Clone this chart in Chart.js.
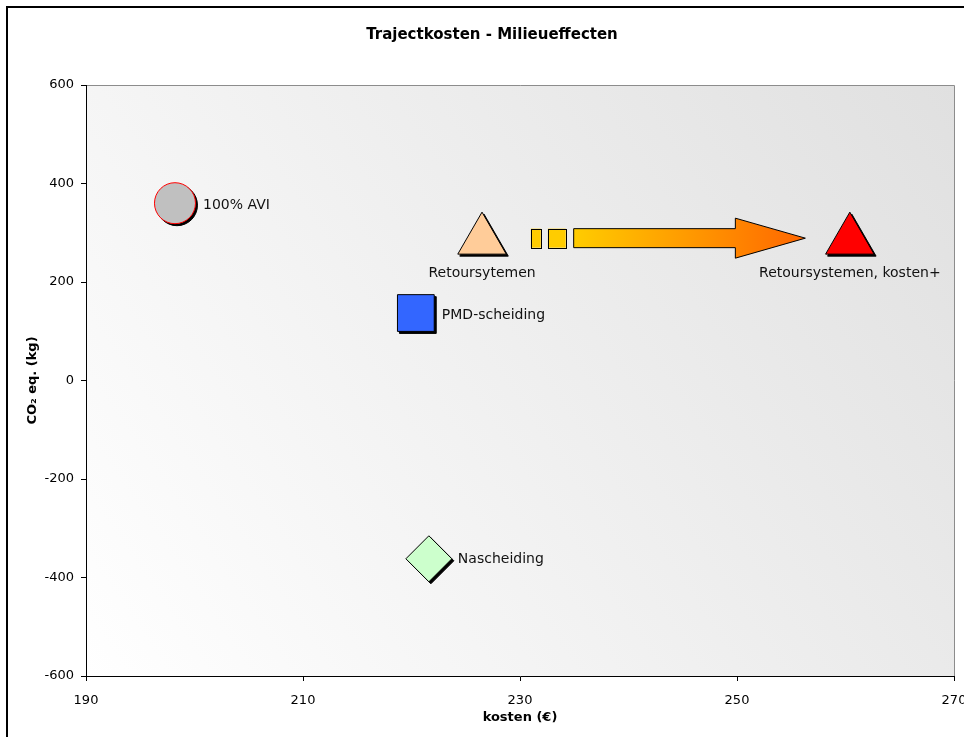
<!DOCTYPE html>
<html>
<head>
<meta charset="utf-8">
<script src="https://cdn.jsdelivr.net/npm/chart.js@4/dist/chart.umd.min.js"></script>
<style>
  html, body { margin: 0; padding: 0; background: #fff; overflow: hidden; }
  #box { width: 964px; height: 737px; overflow: hidden; }
</style>
</head>
<body>
<div id="box"><canvas id="chart" width="983" height="737"></canvas></div>
<script>
// ── data ─────────────────────────────────────
const labels = ['100% AVI', 'Retoursytemen', 'PMD-scheiding', 'Nascheiding', 'Retoursystemen, kosten+'];
const kosten = [198.2, 226.5, 220.4, 221.6, 260.4];
const co2 = [360, 285, 137, -362, 285];
const xTicks = [190, 210, 230, 250, 270];
const yTicks = [-600, -400, -200, 0, 200, 400, 600];
// arrow from "Retoursytemen" towards "kosten+"
const arrowKosten = [231, 256.3];
const arrowCo2 = 289;

// marker looks, same order as labels
const markers = [
  { style: 'circle',   r: 20.5, bg: '#c0c0c0', border: '#ff0000' },
  { style: 'triangle', r: 28,   bg: '#ffcc99', border: '#000' },
  { style: 'rect',     r: 26,   bg: '#3366ff', border: '#000' },
  { style: 'rectRot',  r: 23,   bg: '#ccffcc', border: '#000' },
  { style: 'triangle', r: 28,   bg: '#ff0000', border: '#000' },
];
// label placement relative to marker centre
const labelPos = [
  { dx: 28, dy: 2,  align: 'left' },
  { dx: 0,  dy: 33, align: 'center' },
  { dx: 26, dy: 2,  align: 'left' },
  { dx: 29, dy: 1,  align: 'left' },
  { dx: 0,  dy: 33, align: 'center' },
];

const FONT = "'DejaVu Sans', Verdana, sans-serif";

const backdrop = {
  id: 'backdrop',
  beforeDraw(chart) {
    const { ctx, chartArea: a } = chart;
    ctx.save();
    ctx.fillStyle = '#fff';
    ctx.fillRect(0, 0, chart.width, chart.height);
    // outer frame
    ctx.fillStyle = '#000';
    ctx.fillRect(6, 6, chart.width - 6, 2);
    ctx.fillRect(6, 6, 2, chart.height - 6);
    // plot area gradient
    const g = ctx.createLinearGradient(a.left, a.bottom, a.right, a.top);
    g.addColorStop(0, '#ffffff');
    g.addColorStop(1, '#e0e0e0');
    ctx.fillStyle = g;
    ctx.fillRect(a.left, a.top, a.right - a.left, a.bottom - a.top);
    ctx.strokeStyle = '#8c8c8c';
    ctx.lineWidth = 1;
    ctx.beginPath();
    ctx.moveTo(a.left, a.top + 0.5);
    ctx.lineTo(a.right + 0.5, a.top + 0.5);
    ctx.lineTo(a.right + 0.5, a.bottom);
    ctx.stroke();
    // title
    ctx.fillStyle = '#000';
    ctx.font = 'bold 15px ' + FONT;
    ctx.textAlign = 'center';
    ctx.textBaseline = 'middle';
    ctx.fillText('Trajectkosten - Milieueffecten', 492, 35);
    ctx.restore();
  }
};

const shadows = {
  id: 'shadows',
  beforeDatasetDraw(chart, args) {
    const ctx = chart.ctx;
    args.meta.data.forEach(pt => {
      const o = pt.options;
      ctx.save();
      ctx.fillStyle = '#000';
      ctx.strokeStyle = '#000';
      ctx.lineWidth = o.borderWidth;
      Chart.helpers.drawPoint(ctx, { pointStyle: o.pointStyle, radius: o.radius, rotation: 0, borderWidth: o.borderWidth }, pt.x + 2, pt.y + 2);
      ctx.restore();
    });
  }
};

const extras = {
  id: 'extras',
  afterDatasetsDraw(chart) {
    const { ctx, scales: { x, y } } = chart;
    ctx.save();
    // point labels
    ctx.fillStyle = '#111';
    ctx.font = '14px ' + FONT;
    ctx.textBaseline = 'middle';
    chart.data.datasets.forEach((ds, i) => {
      const pt = chart.getDatasetMeta(i).data[0];
      const p = labelPos[i];
      ctx.textAlign = p.align;
      ctx.fillText(labels[i], pt.x + p.dx, pt.y + p.dy);
    });
    // arrow
    const x0 = x.getPixelForValue(arrowKosten[0]);
    const x1 = x.getPixelForValue(arrowKosten[1]);
    const cy = y.getPixelForValue(arrowCo2);
    const len = x1 - x0;
    const px = f => x0 + len * f;
    ctx.lineWidth = 1;
    ctx.strokeStyle = '#000';
    ctx.fillStyle = '#ffcc00';
    const bh = 9.5, hh = 20;
    [[0, 0.036], [0.062, 0.127]].forEach(([a, b]) => {
      ctx.fillRect(px(a), cy - bh, px(b) - px(a), bh * 2);
      ctx.strokeRect(Math.round(px(a)) + 0.5, Math.round(cy - bh) + 0.5, Math.round(px(b) - px(a)), Math.round(bh * 2));
    });
    const g = ctx.createLinearGradient(px(0.156), 0, x1, 0);
    g.addColorStop(0, '#ffcc00');
    g.addColorStop(1, '#ff6600');
    ctx.fillStyle = g;
    ctx.beginPath();
    ctx.moveTo(px(0.156), cy - bh);
    ctx.lineTo(px(0.745), cy - bh);
    ctx.lineTo(px(0.745), cy - hh);
    ctx.lineTo(x1, cy);
    ctx.lineTo(px(0.745), cy + hh);
    ctx.lineTo(px(0.745), cy + bh);
    ctx.lineTo(px(0.156), cy + bh);
    ctx.closePath();
    ctx.fill();
    ctx.stroke();
    ctx.restore();
  }
};

const datasets = labels.map((name, i) => ({
  label: name,
  data: [{ x: kosten[i], y: co2[i] }],
  pointStyle: markers[i].style,
  pointRadius: markers[i].r,
  pointHoverRadius: markers[i].r,
  backgroundColor: markers[i].bg,
  borderColor: markers[i].border,
  borderWidth: 1,
  clip: false,
}));

new Chart(document.getElementById('chart'), {
  type: 'scatter',
  data: { datasets },
  options: {
    responsive: false,
    animation: false,
    events: [],
    layout: { padding: { top: 85, right: 10, bottom: 0, left: 0 } },
    plugins: { legend: { display: false }, title: { display: false }, tooltip: { enabled: false } },
    scales: {
      x: {
        type: 'linear', min: 190, max: 270,
        afterBuildTicks: s => { s.ticks = xTicks.map(v => ({ value: v })); },
        afterFit: s => { s.height = 61; },
        grid: { drawOnChartArea: false, drawTicks: true, tickLength: 5, color: '#000' },
        border: { color: '#000', width: 1 },
        ticks: { color: '#000', font: { family: FONT, size: 13 }, padding: 12, maxRotation: 0 },
        title: { display: true, text: 'kosten (€)', color: '#000', font: { family: FONT, size: 13, weight: 'bold' }, padding: { top: 0, bottom: 12 } },
      },
      y: {
        type: 'linear', min: -600, max: 600,
        afterBuildTicks: s => { s.ticks = yTicks.map(v => ({ value: v })); },
        afterFit: s => { s.width = 86; },
        grid: { drawOnChartArea: false, drawTicks: true, tickLength: 5, color: '#000' },
        border: { color: '#000', width: 1 },
        ticks: { color: '#000', font: { family: FONT, size: 13 }, padding: 7 },
        title: { display: true, text: 'CO\u2082 eq. (kg)', color: '#000', font: { family: FONT, size: 13, weight: 'bold' }, padding: { top: 25, bottom: 0 } },
      },
    },
  },
  plugins: [backdrop, shadows, extras],
});
</script>
</body>
</html>
